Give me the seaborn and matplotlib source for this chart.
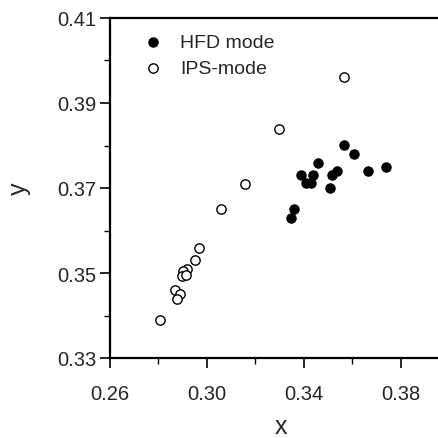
import matplotlib
matplotlib.use("Agg")
import matplotlib.pyplot as plt
import seaborn as sns
import pandas as pd
from matplotlib.ticker import MultipleLocator, FormatStrFormatter

# Data
hfd_x = [0.3566, 0.3606, 0.3459, 0.3386, 0.3436, 0.3408, 0.3429, 0.3517, 0.3537,
         0.3507, 0.3665, 0.3737, 0.3359, 0.3346]
hfd_y = [0.3801, 0.3780, 0.3760, 0.3731, 0.3731, 0.3711, 0.3711, 0.3731, 0.3741,
         0.3700, 0.3740, 0.3750, 0.3650, 0.3629]
ips_x = [0.3566, 0.3297, 0.3157, 0.3059, 0.2967, 0.2949, 0.2919, 0.2902, 0.2898,
         0.2912, 0.2869, 0.2889, 0.2878, 0.2808]
ips_y = [0.3962, 0.3840, 0.3709, 0.3650, 0.3560, 0.3530, 0.3510, 0.3504, 0.3494,
         0.3496, 0.3459, 0.3450, 0.3440, 0.3389]

x_major = [0.26, 0.30, 0.34, 0.38]
y_major = [0.33, 0.35, 0.37, 0.39, 0.41]

hfd = pd.DataFrame({"x": hfd_x, "y": hfd_y})
ips = pd.DataFrame({"x": ips_x, "y": ips_y})

sns.set_style("ticks")
plt.rcParams['font.family'] = ['Liberation Sans', 'DejaVu Sans']

fig = plt.figure(figsize=(4.38, 4.39), dpi=100)
ax = fig.add_axes([110/438, 1 - 359/439, 1 - 110/438, 340/439])

sns.scatterplot(data=hfd, x="x", y="y", ax=ax, s=45, color="black",
                edgecolor="black", linewidth=0.8, label="HFD mode", zorder=3)
sns.scatterplot(data=ips, x="x", y="y", ax=ax, s=45, facecolor="white",
                edgecolor="black", linewidth=1.0, label="IPS-mode", zorder=3)

ax.set_xlim(0.26, 0.3953)
ax.set_ylim(0.33, 0.41)
ax.set_xticks(x_major)
ax.set_yticks(y_major)
ax.xaxis.set_minor_locator(MultipleLocator(0.02))
ax.yaxis.set_minor_locator(MultipleLocator(0.01))
ax.xaxis.set_major_formatter(FormatStrFormatter('%.2f'))
ax.yaxis.set_major_formatter(FormatStrFormatter('%.2f'))
ax.tick_params(axis='y', which='major', labelsize=14.5, length=7, width=1.2,
               direction='out', color='black', pad=3)
ax.tick_params(axis='x', which='major', labelsize=14.5, length=7, width=1.2,
               direction='out', color='black', pad=12)
ax.tick_params(axis='both', which='minor', length=4, width=1.0, direction='out',
               color='black')

for side in ['left', 'bottom', 'top']:
    ax.spines[side].set_linewidth(1.6)
    ax.spines[side].set_color('black')
ax.spines['right'].set_visible(False)

ax.set_xlabel("x", fontsize=18)
ax.xaxis.label.set_verticalalignment('baseline')
ax.xaxis.set_label_coords(0.52, -0.222)
ax.set_ylabel("y", fontsize=18, labelpad=19)

leg = ax.legend(loc='upper left', bbox_to_anchor=(0.036, 0.99), frameon=False,
                fontsize=14, handletextpad=0.4, labelspacing=0.43,
                borderaxespad=0.2, markerscale=1.0)

fig.savefig("out.png", dpi=100)
